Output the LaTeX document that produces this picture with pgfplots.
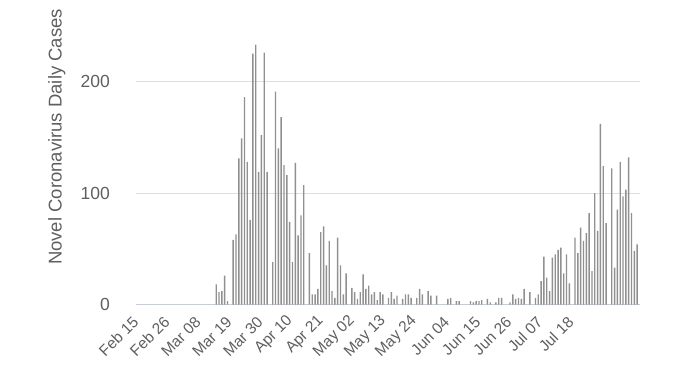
\documentclass[border=0pt]{standalone}
\usepackage{pgfplots}
\pgfplotsset{compat=1.18}
\usepackage{fontspec}
\setmainfont{Liberation Sans}
\definecolor{bargray}{HTML}{909090}
\definecolor{txtgray}{HTML}{5F5F5F}
\definecolor{gridgray}{HTML}{DEDEDE}
\definecolor{basecol}{HTML}{C6CCD8}
\begin{document}
\begin{tikzpicture}
\begin{axis}[
  scale only axis, width=504pt, height=278.75pt,
  xmin=-1.4, xmax=177, ymin=0, ymax=250,
  axis line style={draw=none}, tick style={draw=none},
  major tick length=0pt,
  ytick={0,100,200},
  ymajorgrids, grid style={gridgray, line width=0.9pt},
  xtick={0,11,...,154},
  xticklabels={Feb 15, Feb 26, Mar 08, Mar 19, Mar 30, Apr 10, Apr 21, May 02, May 13, May 24, Jun 04, Jun 15, Jun 26, Jul 07, Jul 18},
  xticklabel shift=19pt,
  xticklabel style={rotate=45, anchor=south east, inner sep=0pt,
    font=\fontsize{15.5}{17}\selectfont, text=txtgray},
  yticklabel shift=26pt,
  yticklabel style={anchor=east, inner sep=0pt,
    font=\fontsize{17.5}{20}\selectfont, text=txtgray},
  /pgf/number format/assume math mode=true,
  ylabel={Novel Coronavirus Daily Cases},
  ylabel style={at={(axis description cs:-0.157,0.601)}, anchor=center,
    font=\fontsize{18.5}{20}\selectfont, text=txtgray},
]
\draw[basecol, line width=1.1pt] (axis cs:-1.4,0) -- (axis cs:177,0);
\addplot[ybar, bar width=1.4pt, bar shift=0pt, fill=bargray, draw=none] table {
x y
27 18
28 11
29 12
30 26
31 3
33 58
34 63
35 131
36 149
37 186
38 128
39 76
40 225
41 233
42 119
43 152
44 226
45 119
47 38
48 191
49 140
50 168
51 125
52 116
53 74
54 38
55 127
56 62
57 80
58 107
60 46
61 9
62 9
63 14
64 65
65 70
66 35
67 57
68 12
69 6
70 60
71 35
72 9
73 28
75 15
76 11
77 5
78 11
79 27
80 14
81 17
82 9
83 11
84 4
85 11
86 9
88 6
89 11
90 5
91 8
93 5
94 9
95 9
96 6
98 6
99 14
100 9
102 12
103 8
105 8
109 5
110 6
112 3
113 3
117 3
118 2
119 3
120 3
121 4
123 5
124 2
126 2
127 6
128 6
131 2
132 9
133 5
134 6
135 5
136 14
138 11
140 6
141 9
142 21
143 43
144 24
145 12
146 42
147 45
148 49
149 51
150 28
151 45
152 19
154 60
155 46
156 69
157 57
158 64
159 82
160 30
161 100
162 66
163 162
164 124
165 73
167 122
168 33
169 85
170 128
171 97
172 103
173 132
174 82
175 48
176 54
};
\coordinate (bl) at (rel axis cs:-0.2698,-0.2816);
\coordinate (tr) at (rel axis cs:1.0794,1.0924);
\end{axis}
\path (bl) rectangle (tr);
\end{tikzpicture}
\end{document}
